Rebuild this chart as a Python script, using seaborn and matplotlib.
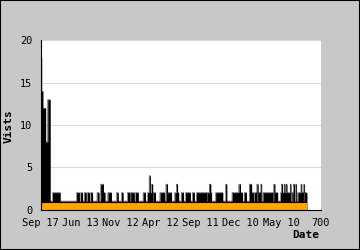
import numpy as np
import pandas as pd
import matplotlib
matplotlib.use("Agg")
import matplotlib.pyplot as plt
from matplotlib.patches import Rectangle
from matplotlib.ticker import MultipleLocator
import seaborn as sns

# ---- data (days since start, visits) ----
n_days = 665
base_visits = 1
block_start = [0, 3, 6, 13, 18, 30, 90, 100, 109, 117, 125, 141, 150, 157, 168,
               190, 202, 217, 225, 237, 256, 267, 271, 274, 277, 281, 298, 313, 317,
               335, 339, 342, 351, 362, 379, 389, 395, 415, 421, 425, 437, 462,
               478, 495, 499, 508, 521, 527, 534, 540, 544, 550, 555, 582, 585,
               599, 601, 608, 613, 615, 623, 628, 631, 637, 642, 650, 652, 657, 659]
block_end = [3, 6, 13, 18, 24, 49, 97, 105, 114, 122, 130, 146, 157, 161, 177,
             194, 206, 223, 234, 244, 262, 271, 274, 277, 280, 287, 310, 317, 327,
             339, 342, 345, 357, 374, 384, 395, 414, 421, 425, 427, 455, 465,
             495, 499, 504, 514, 527, 532, 539, 543, 549, 552, 580, 585, 592,
             613, 604, 610, 615, 625, 625, 630, 634, 639, 650, 652, 656, 659, 665]
block_visits = [18, 14, 12, 8, 13, 2, 2, 2, 2, 2, 2, 2, 3, 2, 2,
                2, 2, 2, 2, 2, 2, 2, 4, 2, 3, 2, 2, 3, 2,
                2, 3, 2, 2, 2, 2, 2, 2, 2, 3, 2, 2, 3,
                2, 3, 2, 2, 3, 2, 2, 3, 2, 3, 2, 3, 2,
                2, 3, 3, 3, 2, 3, 2, 3, 3, 2, 3, 2, 3, 2]

tick_values = [0, 100, 200, 300, 400, 500, 600, 700]
tick_labels = ["Sep 17", "Jun 13", "Nov 12", "Apr 12", "Sep 11", "Dec 10", "May 10", "700"]
y_ticks = [0, 5, 10, 15, 20]

# ---- build daily series ----
visits = np.full(n_days, base_visits, dtype=float)
for s, e, v in zip(block_start, block_end, block_visits):
    visits[s:e] = v
days = np.arange(n_days + 1)
vals = np.append(visits, visits[-1])
df = pd.DataFrame({"day": days, "visits": vals})

# ---- style ----
sns.set_style("white")
plt.rcParams["font.family"] = ["DejaVu Sans Mono"]

W, H = 360, 250
fig = plt.figure(figsize=(W / 100, H / 100), dpi=100)
fig.patch.set_facecolor("#c8c8c8")
ax = fig.add_axes([40.5 / W, (H - 209.5) / H, (321 - 40.5) / W, (209.5 - 40.5) / H])
ax.set_facecolor("white")

ORANGE = "#ffa500"
ax.fill_between(df["day"], 0, df["visits"], step="post", color="black", lw=0, zorder=2)
sns.lineplot(data=df, x="day", y="visits", drawstyle="steps-post", color="black",
             linewidth=0.3, ax=ax, zorder=3, estimator=None)
ax.fill_between(df["day"], 0, np.minimum(df["visits"], 1) * 0.82, step="post",
                color=ORANGE, lw=0, zorder=4)

ax.set_xlim(0, 700)
ax.set_ylim(0, 20)
ax.set_xticks(tick_values)
ax.set_xticklabels(tick_labels)
ax.set_yticks(y_ticks)
ax.yaxis.set_minor_locator(MultipleLocator(1))
ax.set_xlabel("")
ax.set_ylabel("")

ax.grid(axis="y", color="#dcdcdc", lw=0.8, zorder=0)
ax.set_axisbelow(True)
for side in ["top", "right"]:
    ax.spines[side].set_visible(False)
for side in ["left", "bottom"]:
    ax.spines[side].set_color("black")
    ax.spines[side].set_linewidth(0.8)
    ax.spines[side].set_zorder(6)

ax.tick_params(axis="both", which="major", direction="in", length=3.2, width=0.8,
               color="black", labelsize=7.4, pad=5.8, labelcolor="black")
ax.tick_params(axis="y", which="minor", direction="in", length=2.4, width=0.8, color="black")
ax.tick_params(axis="x", which="major", top=False)
for t in ax.get_xticklines() + ax.get_yticklines():
    t.set_zorder(7)

fig.text(8.5 / W, 1 - 126 / H, "Vists", rotation=90, ha="center", va="center",
         fontsize=8, fontweight="bold", color="black")
fig.text(319 / W, 1 - 235 / H, "Date", ha="right", va="center",
         fontsize=8, fontweight="bold", color="black")

fig.patches.append(Rectangle((0, 0), 1, 1, transform=fig.transFigure, fill=False,
                             ec="black", lw=1.5, zorder=10))

fig.savefig("out.png", dpi=100, facecolor=fig.get_facecolor())
